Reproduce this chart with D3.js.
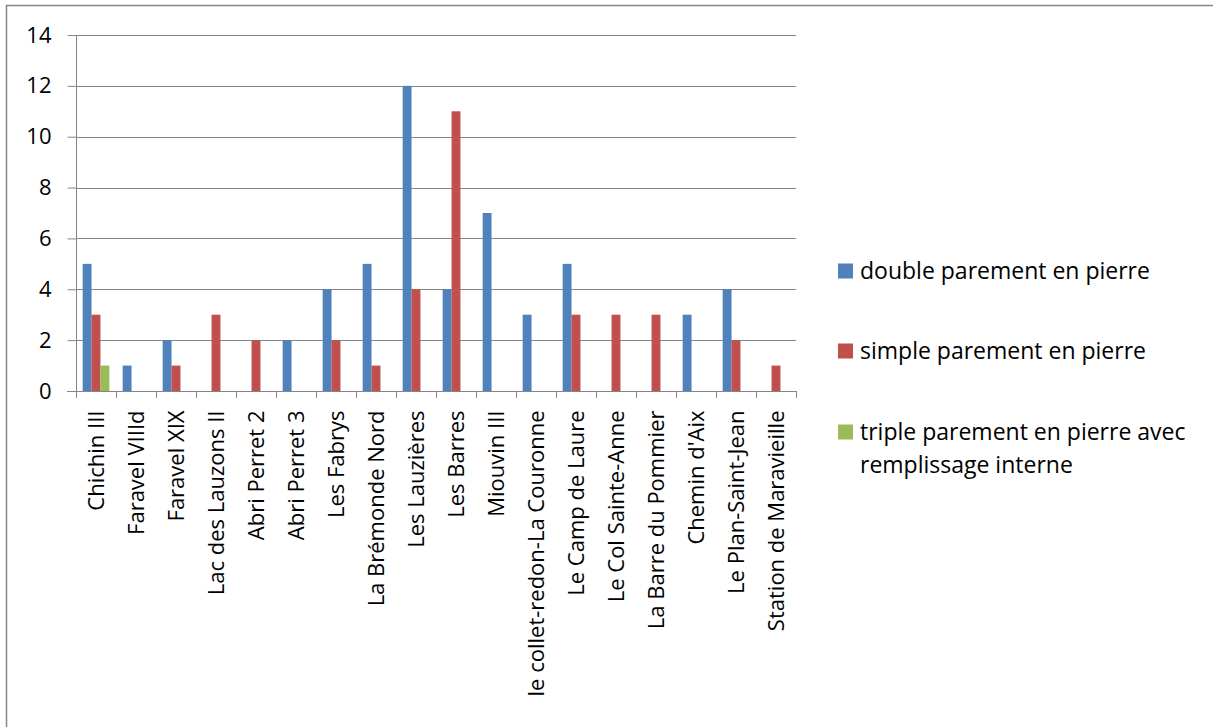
<!DOCTYPE html>
<html><head><meta charset="utf-8">
<script src="https://cdn.jsdelivr.net/npm/d3@7"></script>
<style>body{margin:0;background:#fff}svg{display:block}text{font-family:"Open Sans",sans-serif;fill:#000}</style>
</head><body>
<script>
const categories = ["Chichin III","Faravel VIIId","Faravel XIX","Lac des Lauzons II","Abri Perret 2","Abri Perret 3","Les Fabrys","La Brémonde Nord","Les Lauzières","Les Barres","Miouvin III","le collet-redon-La Couronne","Le Camp de Laure","Le Col Sainte-Anne","La Barre du Pommier","Chemin d'Aix","Le Plan-Saint-Jean","Station de Maravieille"];
const doubleParement = [5,1,2,0,0,2,4,5,12,4,7,3,5,0,0,3,4,0];
const simpleParement = [3,0,1,3,2,0,2,1,4,11,0,0,3,3,3,0,2,1];
const tripleParement = [1,0,0,0,0,0,0,0,0,0,0,0,0,0,0,0,0,0];
const seriesNames = ["double parement en pierre","simple parement en pierre","triple parement en pierre avec remplissage interne"];
const seriesColors = ["#4F81BD","#C0504D","#9BBB59"];
const yTicks = [0,2,4,6,8,10,12,14];

const W=1213,H=727, FS="22px";
const svg=d3.select("body").append("svg").attr("width",W).attr("height",H);
svg.append("rect").attr("x",6.5).attr("y",5.5).attr("width",W+10).attr("height",H+10).attr("fill","#fff").attr("stroke","#868686").attr("stroke-width",1.5);

const L=76,R=796,T=35,B=391;
const x=d3.scaleBand().domain(categories).range([L,R]).paddingInner(0).paddingOuter(0);
const y=d3.scaleLinear().domain([0,14]).range([B,T]);
const series=[doubleParement,simpleParement,tripleParement];
const bw=x.bandwidth()/4.5;
const xs=d3.scaleBand().domain([0,1,2]).range([0.75*bw,3.75*bw]);

// gridlines
svg.append("g").selectAll("line").data(yTicks.filter(d=>d>0)).join("line")
 .attr("x1",L).attr("x2",R).attr("y1",d=>Math.round(y(d))+0.5).attr("y2",d=>Math.round(y(d))+0.5)
 .attr("stroke","#868686").attr("stroke-width",1);

// y axis
const ya=svg.append("g").attr("transform",`translate(${L+0.5},0)`).call(d3.axisLeft(y).tickValues(yTicks).tickSize(9).tickPadding(16).tickFormat(d3.format("d")));
ya.select(".domain").attr("stroke","#868686").attr("d",`M0,${T}V${B}`);
ya.selectAll(".tick line").attr("stroke","#868686");
ya.selectAll(".tick text").attr("font-size",FS).attr("font-family","'Open Sans',sans-serif");

// bars
series.forEach((s,i)=>{
 svg.append("g").selectAll("rect").data(s.map((v,j)=>({v,c:categories[j]}))).join("rect")
  .attr("x",d=>x(d.c)+xs(i)).attr("width",xs.bandwidth())
  .attr("y",d=>y(d.v)).attr("height",d=>y(0)-y(d.v))
  .attr("fill",seriesColors[i]);
});

// x axis
const xa=svg.append("g").attr("transform",`translate(0,${B+0.5})`).call(d3.axisBottom(x).tickSize(0).tickPadding(0));
xa.select(".domain").remove();
svg.append("line").attr("x1",L-9).attr("x2",R).attr("y1",B+0.5).attr("y2",B+0.5).attr("stroke","#868686");
svg.append("g").selectAll("line").data(d3.range(categories.length+1)).join("line")
 .attr("x1",i=>Math.round(L+i*x.bandwidth())+0.5).attr("x2",i=>Math.round(L+i*x.bandwidth())+0.5)
 .attr("y1",B).attr("y2",B+7).attr("stroke","#868686");
xa.selectAll(".tick text").attr("font-size",FS).attr("font-family","'Open Sans',sans-serif")
 .attr("transform","rotate(-90)").attr("text-anchor","end").attr("dy","0.35em").attr("x",-19).attr("y",0);

// legend
const lg=svg.append("g");
const rows=[{i:0,y:271,lines:[seriesNames[0]]},{i:1,y:351,lines:[seriesNames[1]]},{i:2,y:432,lines:["triple parement en pierre avec","remplissage interne"]}];
rows.forEach(r=>{
 lg.append("rect").attr("x",838).attr("y",r.y-7.5).attr("width",15).attr("height",15).attr("fill",seriesColors[r.i]);
 r.lines.forEach((t,k)=>lg.append("text").attr("x",860).attr("y",r.y+k*33).attr("dy","0.35em").attr("font-size","23px").text(t));
});
</script>
</body></html>
